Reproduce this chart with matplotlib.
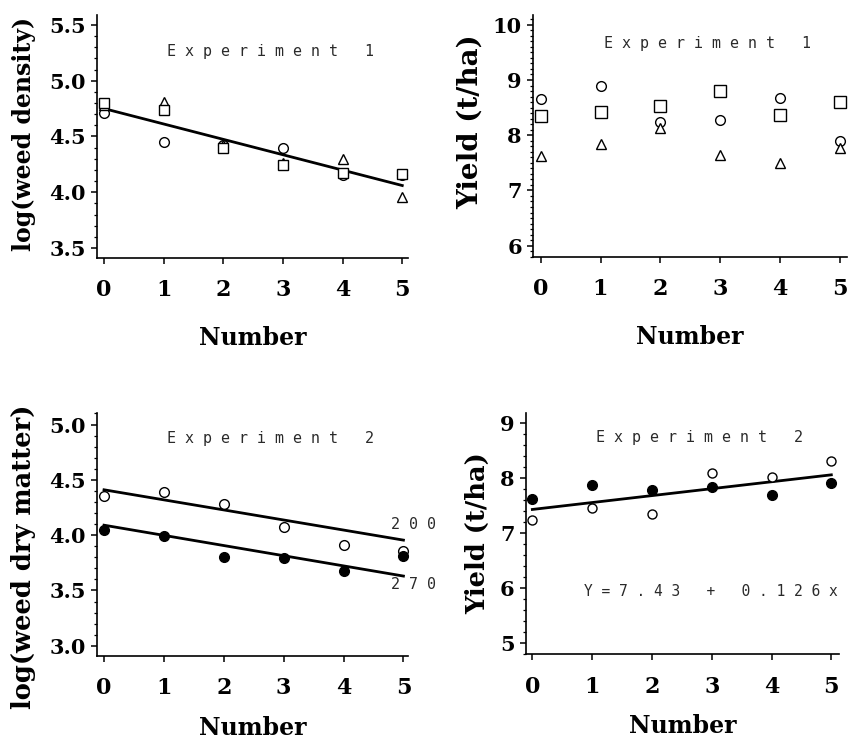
import numpy as np
import matplotlib
matplotlib.use("Agg")
import matplotlib.pyplot as plt
from matplotlib.ticker import MultipleLocator, FormatStrFormatter

# data
number = [0, 1, 2, 3, 4, 5]

# Experiment 1, log(weed density)
dens_circle = [4.71, 4.45, 4.42, 4.40, 4.15, 4.15]
dens_square = [4.80, 4.74, 4.40, 4.24, 4.17, 4.16]
dens_triangle = [4.78, 4.81, 4.42, 4.26, 4.30, 3.96]
dens_fit = [4.75, -0.138]  # intercept, slope

# Experiment 1, yield
yld1_circle = [8.66, 8.90, 8.24, 8.28, 8.68, 7.89]
yld1_square = [8.34, 8.42, 8.53, 8.81, 8.37, 8.61]
yld1_triangle = [7.63, 7.84, 8.14, 7.65, 7.49, 7.77]

# Experiment 2, log(weed dry matter)
dm_200 = [4.355, 4.386, 4.28, 4.075, 3.907, 3.86]
dm_270 = [4.05, 3.99, 3.80, 3.79, 3.68, 3.81]
dm_fit_200 = [4.41, -0.091]
dm_fit_270 = [4.09, -0.092]

# Experiment 2, yield
yld2_open = [7.23, 7.45, 7.35, 8.09, 8.02, 8.32]
yld2_filled = [7.62, 7.88, 7.79, 7.83, 7.70, 7.91]
yld2_fit = [7.43, 0.126]

serif = "DejaVu Serif"
mono = "DejaVu Sans Mono"
txt_col = "#2a2a2a"

fig = plt.figure(figsize=(8.48, 7.43), dpi=100)


def spaced(s):
    return " ".join(s)


def style(ax, xlim, ylim, major, minor, ylabel, ysize, ypos, xpad):
    ax.set_xlim(*xlim)
    ax.set_ylim(*ylim)
    for s in ["top", "right"]:
        ax.spines[s].set_visible(False)
    for s in ["left", "bottom"]:
        ax.spines[s].set_linewidth(1.2)
    ax.set_xticks(number)
    ax.yaxis.set_major_locator(MultipleLocator(major))
    ax.yaxis.set_minor_locator(MultipleLocator(minor))
    ax.tick_params(axis="both", which="major", direction="out", length=4.5, width=1.1)
    ax.tick_params(axis="x", which="major", pad=11, labelsize=16)
    ax.tick_params(axis="y", which="major", pad=3.5, labelsize=15)
    ax.tick_params(axis="y", which="minor", direction="out", length=2.2, width=0.9)
    for lab in ax.get_xticklabels() + ax.get_yticklabels():
        lab.set_fontfamily(serif)
        lab.set_fontweight("bold")
    ax.set_xlabel("Number", fontfamily=serif, fontweight="bold", fontsize=17, labelpad=xpad)
    ax.set_ylabel(ylabel, fontfamily=serif, fontweight="bold", fontsize=ysize, va="center")
    ax.yaxis.set_label_coords(*ypos)


mk = dict(linestyle="none", markerfacecolor="white", markeredgecolor="black",
          markeredgewidth=1.0, clip_on=False)
xs = np.array([0, 5])

# top left
ax1 = fig.add_axes([0.1144, 0.6528, 0.367, 0.327])
ax1.plot(xs, dens_fit[0] + dens_fit[1] * xs, color="black", lw=2.0)
ax1.plot(number, dens_circle, marker="o", markersize=7, **mk)
ax1.plot(number, dens_triangle, marker="^", markersize=7.5, **mk)
ax1.plot(number, dens_square, marker="s", markersize=7.5, **mk)
style(ax1, (-0.12, 5.1), (3.41, 5.59), 0.5, 0.1, "log(weed density)", 17,
      (-0.235, 0.51), 18)
ax1.yaxis.set_major_formatter(FormatStrFormatter("%.1f"))
ax1.text(1.06, 5.26, spaced("Experiment") + "   1", fontfamily=mono, fontsize=10.8,
         color=txt_col, va="center")

# top right
ax2 = fig.add_axes([0.6285, 0.6545, 0.37, 0.3255])
ax2.plot(number, yld1_circle, marker="o", markersize=7, **mk)
ax2.plot(number, yld1_triangle, marker="^", markersize=7.5, **mk)
ax2.plot(number, yld1_square, marker="s", markersize=8, **mk)
style(ax2, (-0.13, 5.12), (5.8, 10.18), 1, 0.1, "Yield (t/ha)", 20,
      (-0.2, 0.56), 18)
ax2.text(1.06, 9.66, spaced("Experiment") + "   1", fontfamily=mono, fontsize=10.8,
         color=txt_col, va="center")

# bottom left
ax3 = fig.add_axes([0.1144, 0.1175, 0.367, 0.326])
ax3.plot(xs, dm_fit_200[0] + dm_fit_200[1] * xs, color="black", lw=2.0)
ax3.plot(xs, dm_fit_270[0] + dm_fit_270[1] * xs, color="black", lw=2.0)
ax3.plot(number, dm_200, marker="o", markersize=7, **mk)
ax3.plot(number, dm_270, marker="o", markersize=7, linestyle="none",
         color="black", clip_on=False)
style(ax3, (-0.117, 5.08), (2.91, 5.1), 0.5, 0.1, "log(weed dry matter)", 18.5,
      (-0.235, 0.41), 12)
ax3.yaxis.set_major_formatter(FormatStrFormatter("%.1f"))
ax3.text(1.06, 4.87, spaced("Experiment") + "   2", fontfamily=mono, fontsize=10.8,
         color=txt_col, va="center")
ax3.text(4.8, 4.1, spaced("200"), fontfamily=mono, fontsize=10.8, color=txt_col,
         va="center", clip_on=False)
ax3.text(4.8, 3.55, spaced("270"), fontfamily=mono, fontsize=10.8, color=txt_col,
         va="center", clip_on=False)

# bottom right
ax4 = fig.add_axes([0.62, 0.1198, 0.3695, 0.3247])
ax4.plot(xs, yld2_fit[0] + yld2_fit[1] * xs, color="black", lw=2.0)
ax4.plot(number, yld2_open, marker="o", markersize=6.5, **mk)
ax4.plot(number, yld2_filled, marker="o", markersize=7, linestyle="none",
         color="black", clip_on=False)
style(ax4, (-0.11, 5.13), (4.8, 9.19), 1, 0.2, "Yield (t/ha)", 18.5,
      (-0.153, 0.50), 12)
ax4.text(1.07, 8.74, spaced("Experiment") + "   2", fontfamily=mono, fontsize=10.8,
         color=txt_col, va="center")
ax4.text(0.86, 5.94, "Y = 7 . 4 3   +   0 . 1 2 6 x", fontfamily=mono, fontsize=10.5,
         color=txt_col, va="center", clip_on=False)

fig.savefig("out.png", dpi=100)
